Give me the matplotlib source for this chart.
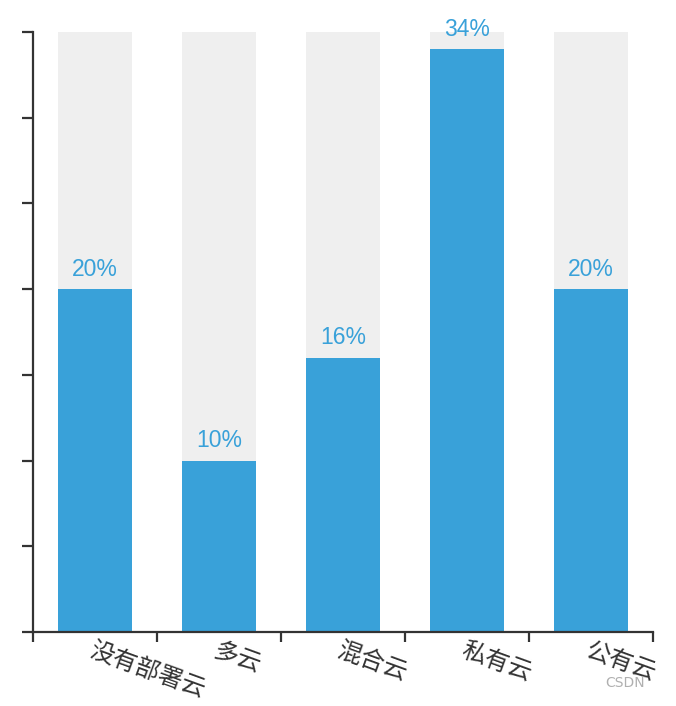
import matplotlib
matplotlib.use("Agg")
import matplotlib.pyplot as plt

plt.rcParams['font.family'] = ['Noto Sans CJK SC', 'DejaVu Sans']

# data
categories = ['没有部署云', '多云', '混合云', '私有云', '公有云']
values = [20, 10, 16, 34, 20]
y_max = 35

blue = '#39a1d9'
dark = '#333333'

fig = plt.figure(figsize=(6.76, 7.06), dpi=100)
ax = fig.add_axes([0.0488, 0.1048, 0.9172, 0.8499])

x = range(len(categories))
ax.bar(x, [y_max] * len(categories), width=0.6, color='#efefef', zorder=1)
ax.bar(x, values, width=0.6, color=blue, zorder=2)

for xi, v in zip(x, values):
    ax.annotate(f'{v}%', (xi, v), xytext=(0, 6), textcoords='offset points',
                ha='center', va='bottom', color=blue, fontsize=16.5,
                family=['Liberation Sans', 'DejaVu Sans'], zorder=3)

ax.set_xlim(-0.5, len(categories) - 0.5)
ax.set_ylim(0, y_max)

for s in ['top', 'right']:
    ax.spines[s].set_visible(False)
for s in ['left', 'bottom']:
    ax.spines[s].set_color(dark)
    ax.spines[s].set_linewidth(1.6)

ax.set_yticks(range(0, y_max + 1, 5))
ax.set_yticklabels([])
ax.tick_params(axis='y', length=8, width=1.6, color=dark)

ax.set_xticks(list(x))
ax.set_xticklabels(categories, rotation=-20, ha='left', va='top',
                   rotation_mode='anchor', fontsize=17.5, color=dark)
ax.tick_params(axis='x', which='major', length=0, pad=4)
ax.set_xticks([i - 0.5 for i in range(len(categories) + 1)], minor=True)
ax.tick_params(axis='x', which='minor', length=7, width=1.6, color=dark)

fig.text(0.925, 0.033, 'CSDN', color='#b0b0b0', fontsize=10, ha='center',
         va='center', family=['DejaVu Sans'])

fig.savefig('out.png', dpi=100)
